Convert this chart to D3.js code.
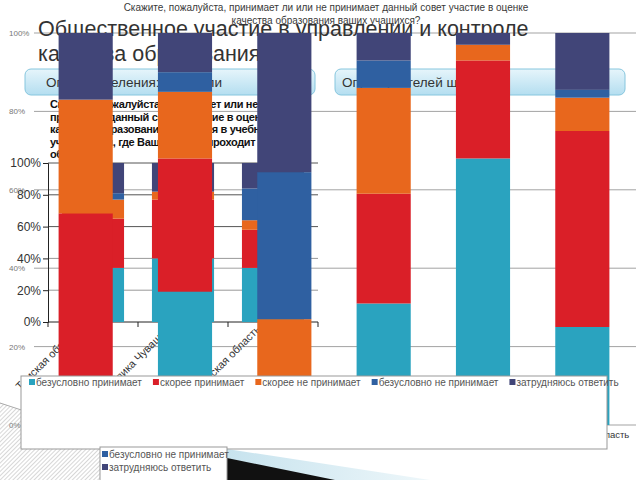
<!DOCTYPE html>
<html><head><meta charset="utf-8">
<script src="https://cdn.jsdelivr.net/npm/d3@7"></script>
<style>html,body{margin:0;padding:0;background:#fff;} svg{display:block;font-family:"Liberation Sans",Arial,sans-serif;}</style>
</head><body><svg id="c" width="640" height="480"></svg>
<script>
const seriesNames = ["безусловно принимает","скорее принимает","скорее не принимает","безусловно не принимает","затрудняюсь ответить"];
const seriesColors = ["#2aa3bf","#da1f28","#e8671d","#2f60a1","#414578"];
const mainCategories = ["Томская область","Республика Чувашия","Ульяновская область","Томская область","Республика Чувашия","Ульяновская область"];
const mainTeal   = [5, 34, 0, 31, 68, 25];
const mainRed    = [49, 34, 0, 28, 25, 50];
const mainOrange = [29, 17, 27, 27, 4, 8.5];
const mainBlue   = [0, 5, 37.5, 7, 0, 2];
const mainNavy   = [17, 10, 35.5, 7, 3, 14.5];
const smallCategories = ["Томская область","Республика Чувашия","Ульяновская область"];
const smallTeal   = [34, 40, 34];
const smallRed    = [31, 37, 24];
const smallOrange = [12, 5, 6];
const smallBlue   = [4, 0, 20];
const smallNavy   = [19, 18, 16];
const percentTicks = [0, 20, 40, 60, 80, 100];
const chartTitleLines = ["Скажите, пожалуйста, принимает ли или не принимает данный совет участие в оценке","качества образования ваших учащихся?"];
const slideTitleLines = ["Общественное участие в управлении и контроле","качества образования"];
const boxLabels = ["Опрос населения: родители","Опрос учителей школ"];
const paragraphLines = ["Скажите, пожалуйста, принимает или не","принимает данный совет участие в оценке","качества образования учащихся в учебном","учреждении, где Ваш ребенок проходит","обучение?"];

const svg = d3.select("#c");
const defs = svg.append("defs");
const hatch = defs.append("pattern").attr("id","hatch").attr("width",3).attr("height",3)
  .attr("patternUnits","userSpaceOnUse").attr("patternTransform","rotate(45)");
hatch.append("line").attr("x1",0).attr("y1",0).attr("x2",0).attr("y2",3).attr("stroke","#9a9a9a").attr("stroke-width",0.8);
const bg = defs.append("linearGradient").attr("id","boxg").attr("x1",0).attr("y1",0).attr("x2",0).attr("y2",1);
bg.append("stop").attr("offset","0%").attr("stop-color","#e6f5fb");
bg.append("stop").attr("offset","100%").attr("stop-color","#b4def0");
const band = defs.append("linearGradient").attr("id","bandg").attr("x1",0).attr("y1",0).attr("x2",1).attr("y2",0);
band.append("stop").attr("offset","0%").attr("stop-color","#c7e3ee");
band.append("stop").attr("offset","100%").attr("stop-color","#eef7fa");
defs.append("clipPath").attr("id","pclip").append("rect").attr("x",0).attr("y",90).attr("width",300).attr("height",80);

function toRows(cols){ return cols[0].map((_,i)=>{const o={i}; seriesNames.forEach((k,j)=>o[k]=cols[j][i]); return o;}); }
const stack = d3.stack().keys(seriesNames);

// main chart scales
const yMain = d3.scaleLinear().domain([0,100]).range([425,33]);
const xMain = d3.scaleBand().domain(d3.range(mainCategories.length)).range([36,632]);
const barWMain = xMain.bandwidth()*0.545;

// chart title
svg.append("g").selectAll("text").data(chartTitleLines).join("text")
  .attr("x",326).attr("y",(d,i)=>11+i*13).attr("text-anchor","middle")
  .attr("font-size",10).attr("fill","#3a3a3a").text(d=>d);

// main gridlines + small gray labels
const mg = svg.append("g");
mg.selectAll("line").data(percentTicks).join("line")
  .attr("x1",34).attr("x2",636).attr("y1",d=>yMain(d)).attr("y2",d=>yMain(d))
  .attr("stroke","#a3a3a3").attr("stroke-width",1);
mg.selectAll("text").data(percentTicks).join("text")
  .attr("x",9).attr("y",d=>yMain(d)+3).attr("font-size",8).attr("fill","#777").text(d=>d+"%");

// slide title
svg.append("g").selectAll("text").data(slideTitleLines).join("text")
  .attr("x",38).attr("y",(d,i)=>36+i*25).attr("font-size",21.5).attr("fill","#333").text(d=>d);

// rounded boxes
const bx = svg.append("g");
bx.selectAll("rect").data(boxLabels).join("rect")
  .attr("x",(d,i)=>i?335:25).attr("y",69).attr("width",290).attr("height",26).attr("rx",6)
  .attr("fill","url(#boxg)").attr("stroke","#86c6de").attr("stroke-width",1);
bx.selectAll("text").data(boxLabels).join("text")
  .attr("x",(d,i)=>i?342:46).attr("y",87).attr("font-size",13.5).attr("fill","#333").text(d=>d);

// bold paragraph
svg.append("g").attr("clip-path","url(#pclip)").selectAll("text").data(paragraphLines).join("text")
  .attr("x",50).attr("y",(d,i)=>108+i*12.5).attr("font-size",11).attr("letter-spacing",-0.35)
  .attr("font-weight","bold").attr("fill","#111").text(d=>d);

// small chart
const ySmall = d3.scaleLinear().domain([0,100]).range([322,163]);
const xSmall = d3.scaleBand().domain(d3.range(smallCategories.length)).range([48,318]);
const barWSmall = xSmall.bandwidth()*0.69;
const sg = svg.append("g");
sg.selectAll("line.g").data(percentTicks.filter(d=>d>0)).join("line").attr("class","g")
  .attr("x1",48).attr("x2",318).attr("y1",d=>ySmall(d)).attr("y2",d=>ySmall(d))
  .attr("stroke",d=>d>=60?"#555":"#999").attr("stroke-width",1);
const sAxis = sg.append("g").attr("transform","translate(48,0)")
  .call(d3.axisLeft(ySmall).tickValues(percentTicks).tickFormat(d=>d+"%").tickSize(5).tickPadding(2));
sAxis.select(".domain").attr("stroke","#222");
sAxis.selectAll(".tick line").attr("stroke","#222");
sAxis.selectAll(".tick text").attr("font-size",12).attr("fill","#333").attr("font-family","Liberation Sans, Arial, sans-serif");
sg.append("line").attr("x1",48).attr("x2",318).attr("y1",ySmall(0)).attr("y2",ySmall(0)).attr("stroke","#222");
sg.selectAll("line.t").data(d3.range(smallCategories.length+1)).join("line").attr("class","t")
  .attr("x1",d=>48+d*xSmall.step()).attr("x2",d=>48+d*xSmall.step())
  .attr("y1",ySmall(0)).attr("y2",ySmall(0)+5).attr("stroke","#222");
const sStack = stack(toRows([smallTeal,smallRed,smallOrange,smallBlue,smallNavy]));
sg.selectAll("g.s").data(sStack).join("g").attr("class","s").attr("fill",(d,i)=>seriesColors[i])
  .selectAll("rect").data(d=>d).join("rect")
  .attr("x",d=>xSmall(d.data.i)+(xSmall.bandwidth()-barWSmall)/2).attr("width",barWSmall)
  .attr("y",d=>ySmall(d[1])).attr("height",d=>ySmall(d[0])-ySmall(d[1]));
sg.selectAll("text.c").data(smallCategories).join("text").attr("class","c")
  .attr("transform",(d,i)=>`translate(${xSmall(i)+xSmall.bandwidth()/2-12},330) rotate(-45)`)
  .attr("text-anchor","end").attr("font-size",11).attr("fill","#333").text(d=>d);

// main bars
const mStack = stack(toRows([mainTeal,mainRed,mainOrange,mainBlue,mainNavy]));
svg.append("g").selectAll("g").data(mStack).join("g").attr("fill",(d,i)=>seriesColors[i])
  .selectAll("rect").data(d=>d).join("rect")
  .attr("x",d=>xMain(d.data.i)+(xMain.bandwidth()-barWMain)/2).attr("width",barWMain)
  .attr("y",d=>yMain(d[1])).attr("height",d=>yMain(d[0])-yMain(d[1]));
svg.append("g").selectAll("text").data(mainCategories).join("text")
  .attr("x",(d,i)=>xMain(i)+xMain.bandwidth()/2).attr("y",438).attr("text-anchor","middle")
  .attr("font-size",9.5).attr("fill","#333").text(d=>d);

// decorations
svg.append("polygon").attr("points","0,403 235,480 0,480").attr("fill","url(#hatch)");
svg.append("line").attr("x1",0).attr("y1",403).attr("x2",235).attr("y2",480).attr("stroke","#aaa");
svg.append("polygon").attr("points","227,449 430,480 227,480").attr("fill","url(#bandg)");
svg.append("polygon").attr("points","227,458 335,480 227,480").attr("fill","#111");

// main legend
const lg = svg.append("g");
lg.append("rect").attr("x",21).attr("y",376).attr("width",586).attr("height",73)
  .attr("fill","#fff").attr("stroke","#999");
let lx = 29;
seriesNames.forEach((name,i)=>{
  lg.append("rect").attr("x",lx).attr("y",379).attr("width",6).attr("height",6).attr("fill",seriesColors[i]);
  const t = lg.append("text").attr("x",lx+7).attr("y",386).attr("font-size",10).attr("fill","#555").text(name);
  lx += 7 + t.node().getComputedTextLength() + 11;
});

// small legend
const sl = svg.append("g");
sl.append("rect").attr("x",100).attr("y",447).attr("width",127).attr("height",40).attr("fill","#fff").attr("stroke","#999");
[3,4].forEach((k,j)=>{
  sl.append("rect").attr("x",102).attr("y",451+j*13).attr("width",6).attr("height",6).attr("fill",seriesColors[k]);
  sl.append("text").attr("x",109).attr("y",458+j*13).attr("font-size",10).attr("fill","#555").text(seriesNames[k]);
});
</script></body></html>
